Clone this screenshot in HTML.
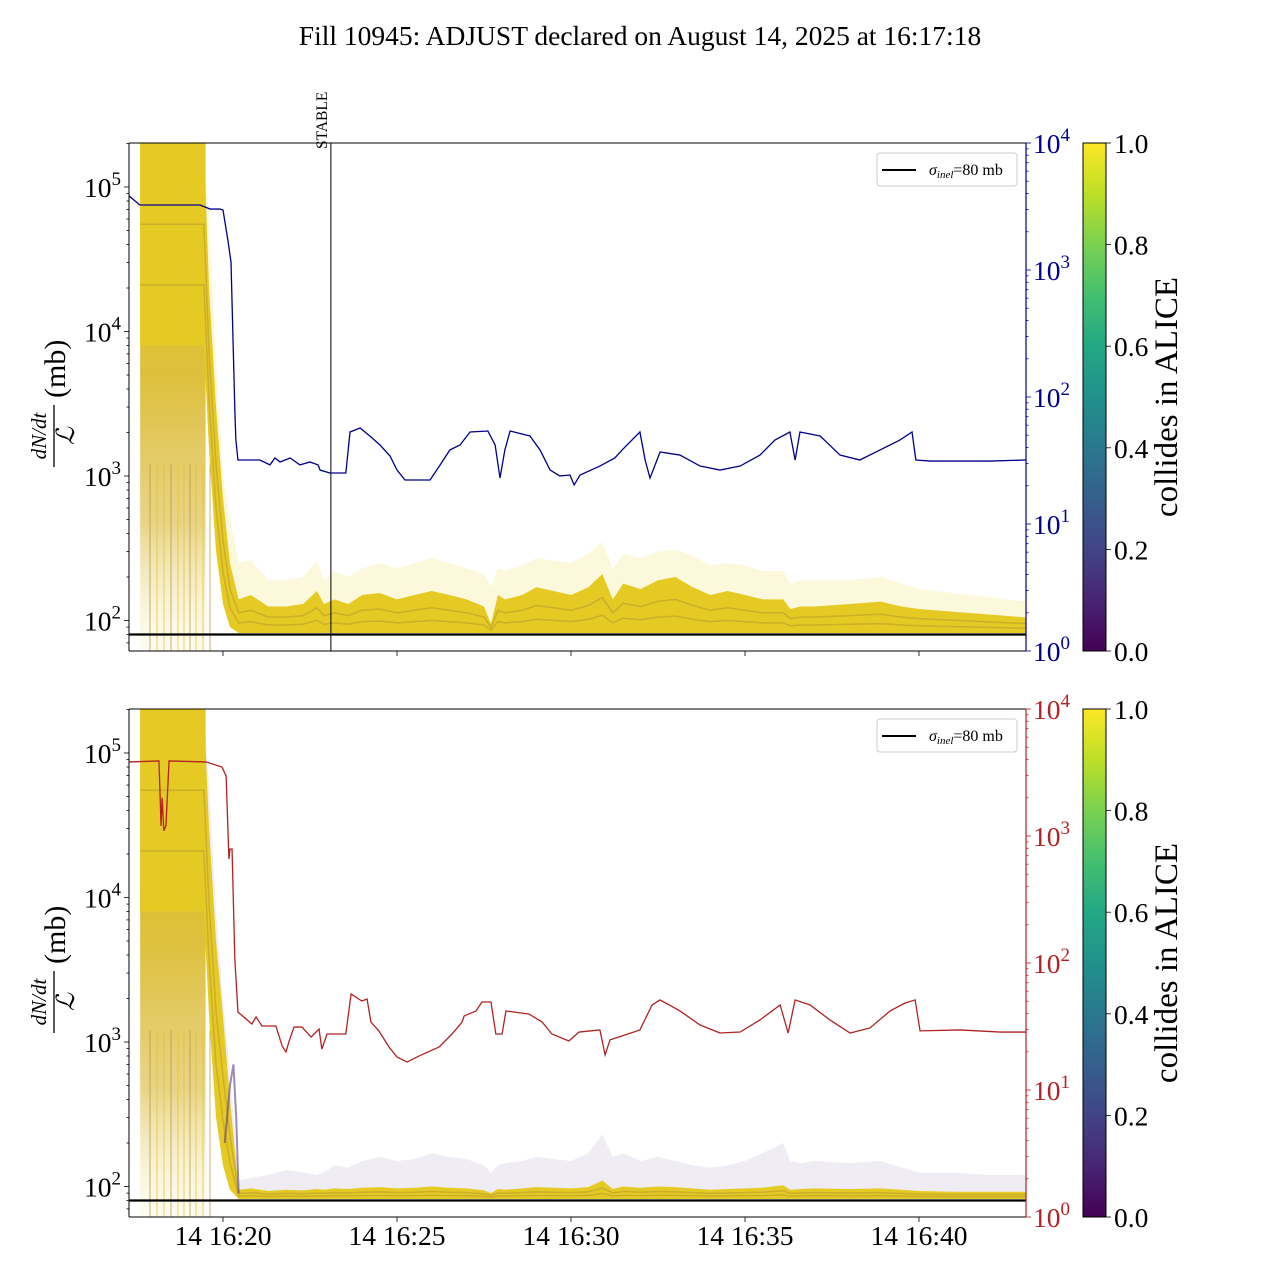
<!DOCTYPE html>
<html><head><meta charset="utf-8"><style>
html,body{margin:0;padding:0;background:#fff;}
svg{display:block;font-family:"Liberation Serif","DejaVu Serif",serif;}
</style></head><body>
<svg id="chart" width="1280" height="1280" viewBox="0 0 1280 1280" xmlns="http://www.w3.org/2000/svg">
<defs>
<linearGradient id="viridis" x1="0" y1="1" x2="0" y2="0">
<stop offset="0" stop-color="#440154"/><stop offset="0.1" stop-color="#482475"/><stop offset="0.2" stop-color="#414487"/><stop offset="0.3" stop-color="#355f8d"/><stop offset="0.4" stop-color="#2a788e"/><stop offset="0.5" stop-color="#21918c"/><stop offset="0.6" stop-color="#22a884"/><stop offset="0.7" stop-color="#44bf70"/><stop offset="0.8" stop-color="#7ad151"/><stop offset="0.9" stop-color="#bddf26"/><stop offset="1" stop-color="#fde725"/>
</linearGradient>
<linearGradient id="preFade" x1="0" y1="0" x2="0" y2="1">
<stop offset="0" stop-color="#e6c624" stop-opacity="1"/><stop offset="0.45" stop-color="#dcbc30" stop-opacity="0.95"/><stop offset="0.75" stop-color="#d9b83a" stop-opacity="0.6"/><stop offset="1" stop-color="#f6ecb0" stop-opacity="0.15"/>
</linearGradient>
</defs>
<text x="640" y="45" font-size="27.5" text-anchor="middle">Fill 10945: ADJUST declared on August 14, 2025 at 16:17:18</text>
</svg>
<script>
// ---- data (time in minutes after 16:00) ----
const blueT=[17.30,17.61,18.19,19.34,19.63,19.91,20.00,20.14,20.23,20.34,20.37,20.43,21.06,21.35,21.49,21.64,21.93,22.21,22.50,22.73,22.79,23.07,23.53,23.65,23.94,24.22,24.51,24.80,25.00,25.23,25.95,26.24,26.52,26.81,27.10,27.61,27.82,27.96,28.10,28.25,28.82,29.11,29.40,29.68,29.97,30.09,30.26,30.83,31.26,31.47,31.98,32.13,32.27,32.56,33.13,33.71,34.28,34.86,35.43,35.86,36.29,36.44,36.58,37.16,37.73,38.30,38.88,39.45,39.80,39.91,40.32,42.04,43.07];
const blueV=[3830,3250,3250,3250,3020,3020,2970,1720,1155,79,45.8,31.9,31.9,29.2,33.1,30.8,33.1,29.2,30.8,29.2,26.6,25.2,25.2,53,57,49.3,41.9,34.3,26.6,22.2,22.2,29.2,38.3,41.9,53,54,41.9,23.0,38.3,54,49.3,38.3,26.6,23.9,24.3,20.3,24.3,28.6,33.1,38.3,53,31.9,23.0,36.9,34.9,28.6,26.6,28.6,34.9,45.8,53,31.9,53,49.3,34.9,31.9,38.3,45.8,53,31.9,31.3,31.3,31.9];
const redT=[17.30,18.16,18.20,18.22,18.25,18.30,18.36,18.45,19.51,19.97,20.09,20.17,20.20,20.26,20.34,20.43,20.83,20.95,21.12,21.52,21.70,21.81,21.90,22.04,22.27,22.53,22.76,22.84,22.99,23.53,23.68,23.99,24.14,24.25,24.48,24.77,25.00,25.29,25.63,26.21,26.58,26.87,26.93,27.27,27.44,27.70,27.84,28.02,28.13,28.79,29.17,29.45,29.94,30.23,30.83,30.98,31.12,31.98,32.33,32.56,33.13,33.71,34.28,34.86,35.43,36.01,36.24,36.44,36.87,37.44,38.02,38.59,39.17,39.60,39.89,40.03,41.18,42.33,43.07];
const redV=[3830,3900,1800,1200,2000,1100,1200,3900,3830,3490,2970,659,790,790,107,41.1,33.1,37.6,31.9,31.9,22.2,19.9,24.3,31.3,31.3,26.1,30.2,21.0,27.6,27.6,57,50.2,52.1,34.3,29.2,21.8,18.2,16.6,18.5,21.8,27.6,34.3,38.3,41.9,49.3,49.3,27.6,27.6,41.9,39.7,34.3,27.6,24.3,28.6,29.7,18.9,24.8,29.7,46.7,51.2,41.9,32.5,28.1,28.6,35.6,46.7,28.1,51.2,46.7,35.6,28.1,30.8,41.9,48.4,51.2,29.2,29.7,28.6,28.6];
const bandT=[17.62,19.45,19.6,19.8,20.0,20.2,20.45,20.8,21.3,21.8,22.3,22.7,22.9,23.2,23.6,24.0,24.5,25.0,25.5,26.0,26.5,27.0,27.5,27.7,27.9,28.1,28.6,29.0,29.5,30.0,30.5,30.9,31.2,31.5,32.0,32.5,33.0,33.5,34.0,34.5,35.0,35.5,36.1,36.3,36.6,37.0,38.0,38.9,39.5,40.0,41.0,42.0,43.07];
const topLow=[8000,8000,1500,300,130,90,82,82,82,82,82,82,82,82,82,82,82,82,82,82,82,82,82,82,82,82,82,82,82,82,82,82,82,82,82,82,82,82,82,82,82,82,82,82,82,82,82,82,82,82,82,82,82];
const topCore=[200000,200000,20000,3000,700,250,140,150,125,125,130,160,130,140,130,150,155,140,150,160,150,140,125,95,150,140,150,170,160,150,170,210,140,180,165,190,200,170,150,160,150,140,140,120,125,125,130,135,125,120,115,110,105];
const topFaint=[200000,200000,60000,6000,1000,500,250,260,190,190,200,260,190,220,200,230,250,230,250,270,250,230,210,170,230,220,240,270,260,250,290,350,230,290,270,300,310,280,240,250,240,220,220,180,190,190,190,200,180,165,155,145,135];
const botLow=[8000,8000,1500,300,140,95,82,82,82,82,82,82,82,82,82,82,82,82,82,82,82,82,82,82,82,82,82,82,82,82,82,82,82,82,82,82,82,82,82,82,82,82,82,82,82,82,82,82,82,82,82,82,82];
const botCore=[200000,200000,30000,5000,1500,400,95,97,93,95,94,96,95,97,96,98,99,97,98,100,98,97,94,90,96,95,97,99,98,97,99,110,96,100,98,100,99,97,95,96,97,98,102,95,96,97,96,97,95,93,92,92,92];
const botFaint=[200000,200000,60000,8000,2000,600,110,115,120,130,125,120,125,140,135,150,160,150,155,170,160,155,140,125,140,145,150,160,155,150,170,230,160,170,150,160,150,140,135,140,150,170,200,150,145,150,145,150,135,125,125,120,120];
const spikeT=[20.05,20.2,20.3,20.38,20.45];
const spikeV=[200,500,700,300,90];
const xTickT=[20,25,30,35,40];
const xTickLabels=["14 16:20","14 16:25","14 16:30","14 16:35","14 16:40"];
const cbTicks=[0,0.2,0.4,0.6,0.8,1.0];
const sigmaInel=80;
const stableT=23.10;

const NS="http://www.w3.org/2000/svg";
const svg=document.getElementById('chart');
function el(tag,attrs,parent){const e=document.createElementNS(NS,tag);for(const k in attrs)e.setAttribute(k,attrs[k]);(parent||svg).appendChild(e);return e;}
const X0=129,X1=1026;
function xS(t){return 223+(t-20)*34.8;}
function panel(top,bot,rightColor,seriesT,seriesV,low,core,faint,isTop,name){
  const g=el('g',{});
  
  
  const yL=v=>(top+44)+144.5*(5-Math.log10(v));
  const yR=v=>bot-127*Math.log10(v);
  const clipId='clip'+top;
  const cp=el('clipPath',{id:clipId},g);el('rect',{x:X0,y:top,width:X1-X0,height:bot-top},cp);
  const plot=el('g',{'clip-path':'url(#'+clipId+')'},g);
  const pre=el('rect',{x:xS(17.62),y:top,width:xS(19.5)-xS(17.62),height:bot-top,fill:'url(#preFade)'},plot);
  
  
  let pts=[];
  for(let i=0;i<bandT.length;i++)pts.push(xS(bandT[i])+','+yL(faint[i]));
  for(let i=bandT.length-1;i>=0;i--)pts.push(xS(bandT[i])+','+yL(low[i]));
  const fb=el('polygon',{points:pts.join(' '),fill:isTop?'#f3e05a':'#b8aacc','fill-opacity':0.22},plot);
  
  
  pts=[];
  for(let i=0;i<bandT.length;i++)pts.push(xS(bandT[i])+','+yL(core[i]));
  for(let i=bandT.length-1;i>=0;i--)pts.push(xS(bandT[i])+','+yL(low[i]));
  const cb=el('polygon',{points:pts.join(' '),fill:'#e6ca24'},plot);
  
  
  [0.3,0.6].forEach((f,j)=>{
    const p=bandT.map((t,i)=>xS(t)+','+yL(Math.pow(10,Math.log10(low[i])*(1-f)+Math.log10(core[i])*f))).join(' ');
    const l=el('polyline',{points:p,fill:'none',stroke:'#7a5a3a','stroke-width':1.5,'stroke-opacity':0.25},plot);
    
    
  });
  if(!isTop){
    const sp=el('polyline',{points:spikeT.map((t,i)=>xS(t)+','+yL(spikeV[i])).join(' '),fill:'none',stroke:'#5a3d8a','stroke-width':2,'stroke-opacity':0.6},plot);
    
    
  }
  [150,157,164,171,178,184,190,196,203,210].forEach((x,j)=>{
    const v=el('line',{x1:x,x2:x,y1:yL(1200),y2:bot,stroke:j%3==0?'#b89030':'#e6c020','stroke-width':1,'stroke-opacity':0.7},plot);
    
    
  });
  const sl=el('line',{x1:X0,x2:X1,y1:yL(sigmaInel),y2:yL(sigmaInel),stroke:'#000','stroke-width':2.2},plot);
  
  
  const rs=el('polyline',{points:seriesT.map((t,i)=>xS(t)+','+yR(seriesV[i])).join(' '),fill:'none',stroke:rightColor,'stroke-width':1.3},plot);
  
  
  if(isTop){
    const st=el('line',{x1:xS(stableT),x2:xS(stableT),y1:top,y2:bot,stroke:'#000','stroke-width':1},g);
    
    
    const tx=el('text',{x:0,y:0,'font-size':15.5,transform:`translate(${xS(stableT)-4},149) rotate(-90)`},g);
    tx.textContent='STABLE';
    
    
  }
  el('line',{x1:X0,x2:X1,y1:top,y2:top,stroke:'#000','stroke-width':1},g);
  el('line',{x1:X0,x2:X1,y1:bot,y2:bot,stroke:'#000','stroke-width':1},g);
  el('line',{x1:X0,x2:X0,y1:top,y2:bot,stroke:'#000','stroke-width':1},g);
  el('line',{x1:X1,x2:X1,y1:top,y2:bot,stroke:rightColor,'stroke-width':1.2},g);
  for(let d=1;d<=5;d++){
    for(let m=1;m<10;m++){
      const v=m*Math.pow(10,d);const y=yL(v);
      if(y<top||y>bot)continue;
      el('line',{x1:X0,x2:X0-(m==1?5:2.5),y1:y,y2:y,stroke:'#000','stroke-width':0.8},g);
    }
    if(d>=2){const y=yL(Math.pow(10,d));
      const t=el('text',{x:X0-8,y:y+10,'font-size':27.5,'text-anchor':'end'},g);
      t.innerHTML='10<tspan dy="-12" font-size="19">'+d+'</tspan>';
      
      }
  }
  for(let d=0;d<=4;d++){
    for(let m=1;m<10;m++){
      const v=m*Math.pow(10,d);const y=yR(v);
      if(y<top-0.5||y>bot+0.5)continue;
      el('line',{x1:X1,x2:X1+(m==1?5:2.5),y1:y,y2:y,stroke:rightColor,'stroke-width':0.8},g);
      if(d==4)break;
    }
    const y=yR(Math.pow(10,d));
    const t=el('text',{x:X1+7,y:y+10,'font-size':27.5,fill:rightColor},g);
    t.innerHTML='10<tspan dy="-12" font-size="19">'+d+'</tspan>';
    
    
  }
  xTickT.forEach((tt,i)=>{
    el('line',{x1:xS(tt),x2:xS(tt),y1:bot,y2:bot+5,stroke:'#000','stroke-width':0.8},g);
    if(!isTop){const t=el('text',{x:xS(tt),y:bot+28,'font-size':27.5,'text-anchor':'middle'},g);
      t.textContent=xTickLabels[i];
      
      }
  });
  const yl=el('g',{transform:`translate(54,${(top+bot)/2}) rotate(-90)`},g);
  
  
  el('line',{x1:-70,x2:-8,y1:0,y2:0,stroke:'#000','stroke-width':1.3},yl);
  const nu=el('text',{x:-39,y:-8,'font-size':21,'font-style':'italic','text-anchor':'middle'},yl);nu.textContent='dN/dt';
  const de=el('text',{x:-39,y:20,'font-size':25,'font-style':'italic','text-anchor':'middle'},yl);de.textContent='ℒ';
  const mb=el('text',{x:-1,y:11,'font-size':30},yl);mb.textContent='(mb)';
  const lg=el('g',{},g);
  
  
  el('rect',{x:877,y:top+10,width:140,height:33,rx:3,fill:'#fff',stroke:'#ccc','stroke-width':1},lg);
  el('line',{x1:882,x2:916,y1:top+27,y2:top+27,stroke:'#000','stroke-width':2},lg);
  const lt=el('text',{x:929,y:top+32,'font-size':16},lg);
  lt.innerHTML='<tspan font-style="italic">σ</tspan><tspan font-style="italic" font-size="11" dy="3">inel</tspan><tspan dy="-3">=80 mb</tspan>';
  const cbg=el('g',{},g);
  
  
  el('rect',{x:1083,y:top,width:23,height:bot-top,fill:'url(#viridis)',stroke:'#000','stroke-width':1},cbg);
  cbTicks.forEach(v=>{const y=bot-v*(bot-top);
    el('line',{x1:1106,x2:1111,y1:y,y2:y,stroke:'#000','stroke-width':0.8},cbg);
    const t=el('text',{x:1114,y:y+10,'font-size':27.5},cbg);t.textContent=v.toFixed(1);
    
    });
  const cl=el('text',{x:0,y:0,'font-size':33,'text-anchor':'middle',transform:`translate(1177,${(top+bot)/2}) rotate(-90)`},cbg);
  cl.textContent='collides in ALICE';
  
  
}
panel(143,651,'#00008b',blueT,blueV,topLow,topCore,topFaint,true,'top-panel');
panel(709,1217,'#b22222',redT,redV,botLow,botCore,botFaint,false,'bottom-panel');
</script>
</body></html>
